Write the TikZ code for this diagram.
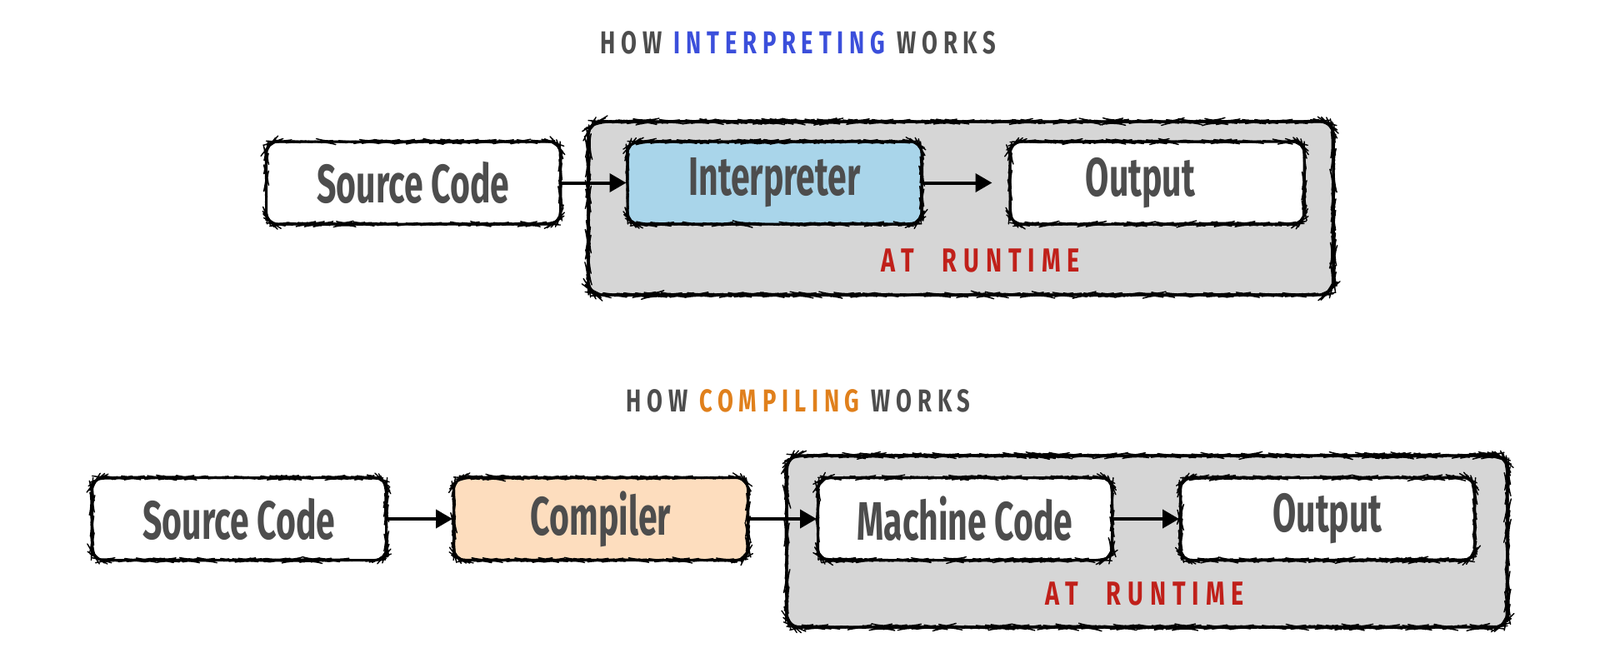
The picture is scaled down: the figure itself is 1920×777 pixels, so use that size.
\documentclass[tikz,border=0pt]{standalone}
\usepackage{fontspec}
\setmainfont{Fira Sans}
\newfontfamily\handfont{Fira Sans}[FakeStretch=0.63]
\newfontfamily\titlefont{Fira Sans}[FakeStretch=0.72,LetterSpace=18]
\newfontfamily\rtfont{Fira Sans}[FakeStretch=0.72,LetterSpace=20]
\usetikzlibrary{decorations.pathmorphing,arrows.meta}
\definecolor{txtgray}{HTML}{4D4D4D}
\definecolor{ttlblue}{HTML}{3B4FDB}
\definecolor{ttlorange}{HTML}{E0801C}
\definecolor{rtred}{HTML}{C0201A}
\definecolor{interpfill}{HTML}{A9D5EA}
\definecolor{compfill}{HTML}{FDDDBE}
\definecolor{zonefill}{HTML}{D6D6D6}
\tikzset{
  sketch/.style={postaction={draw=black,line width=1.4pt,line join=round,decorate,
      decoration={random steps,segment length=3.5pt,amplitude=0.55pt}}},
  stepbox/.style={draw=black,line width=3pt,rounded corners=14pt,
      minimum width=353pt,minimum height=99pt,fill=white,sketch,
      font=\handfont\bfseries\fontsize{65}{72}\selectfont,text=txtgray},
  zone/.style={draw=black,line width=3.2pt,rounded corners=16pt,fill=zonefill,sketch},
  flow/.style={draw=black,line width=4pt,-{Triangle[length=20pt,width=22pt]}},
  ttl/.style={font=\titlefont\bfseries\fontsize{38}{40}\selectfont,text=txtgray},
  rt/.style={font=\rtfont\bfseries\fontsize{40}{42}\selectfont,text=rtred},
}
\begin{document}
\begin{tikzpicture}[x=1pt,y=-1pt]
\useasboundingbox (0,0) rectangle (1920,777);
% titles
\node[ttl] (t1) at (958,51) {HOW\hspace{14pt}\textcolor{ttlblue}{INTERPRETING}\hspace{14pt}WORKS};
\node[ttl] (t2) at (958,481) {HOW\hspace{14pt}\textcolor{ttlorange}{COMPILING}\hspace{14pt}WORKS};
% zones
\draw[zone] (706,146) rectangle (1600,354);
\draw[zone] (944,547) rectangle (1809,753);
% top row
\node[stepbox] (src1) at (496,219.5) {Source Code};
\node[stepbox,fill=interpfill] (interp) at (929.5,219.5) {Interpreter};
\node[stepbox] (out1) at (1388.5,219.5) {\hspace*{-40pt}Output};
\node[rt] (rt1) at (1177,313) {AT\hspace{34pt}RUNTIME};
% bottom row
\node[stepbox] (src2) at (287,623) {Source Code};
\node[stepbox,fill=compfill] (comp) at (721,623) {Compiler};
\node[stepbox] (mach) at (1158,623) {Machine Code};
\node[stepbox] (out2) at (1593,623) {Output};
\node[rt] (rt2) at (1374,713) {AT\hspace{34pt}RUNTIME};
% arrows
\draw[flow] (src1) -- (interp);
\draw[flow,shorten >=20pt] (interp) -- (out1);
\draw[flow] (src2) -- (comp);
\draw[flow] (comp) -- (mach);
\draw[flow] (mach) -- (out2);
\end{tikzpicture}
\end{document}
